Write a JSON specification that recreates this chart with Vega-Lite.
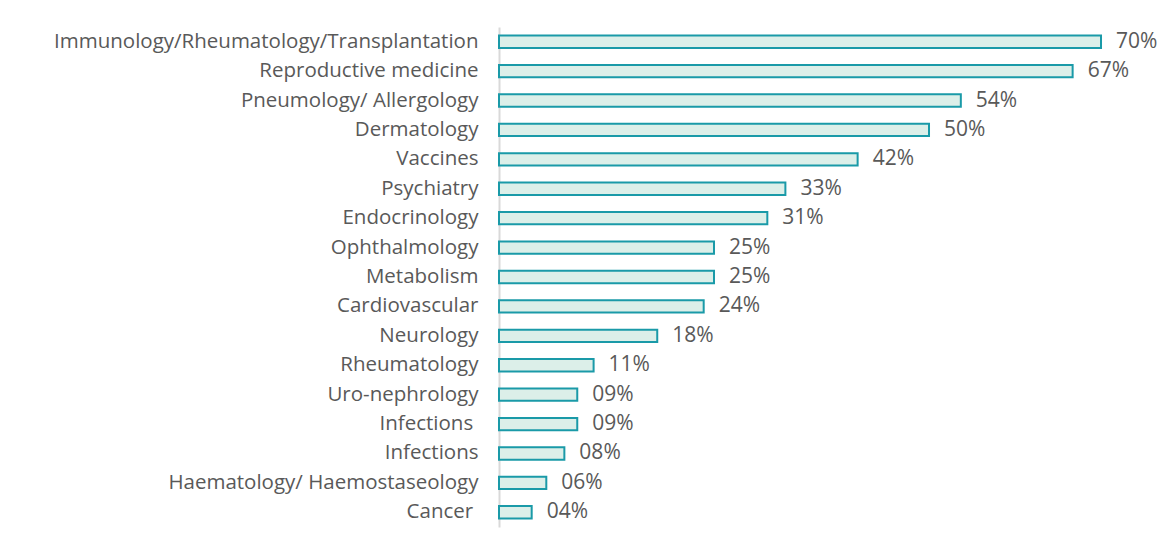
{
  "$schema": "https://vega.github.io/schema/vega-lite/v6.json",
  "autosize": {"type": "none"},
  "width": 650,
  "height": 500,
  "padding": {"left": 499, "top": 27, "right": 23, "bottom": 33},
  "background": "white",
  "config": {"view": {"stroke": null}, "font": "Open Sans"},
  "data": {
    "values": [
      {"area": "Immunology/Rheumatology/Transplantation", "pct": 70, "label": "70%"},
      {"area": "Reproductive medicine", "pct": 66.7, "label": "67%"},
      {"area": "Pneumology/ Allergology", "pct": 53.7, "label": "54%"},
      {"area": "Dermatology", "pct": 50, "label": "50%"},
      {"area": "Vaccines", "pct": 41.7, "label": "42%"},
      {"area": "Psychiatry", "pct": 33.3, "label": "33%"},
      {"area": "Endocrinology", "pct": 31.2, "label": "31%"},
      {"area": "Ophthalmology", "pct": 25, "label": "25%"},
      {"area": "Metabolism", "pct": 25, "label": "25%"},
      {"area": "Cardiovascular", "pct": 23.8, "label": "24%"},
      {"area": "Neurology", "pct": 18.4, "label": "18%"},
      {"area": "Rheumatology", "pct": 11, "label": "11%"},
      {"area": "Uro-nephrology", "pct": 9.1, "label": "09%"},
      {"area": "Infections ", "pct": 9.1, "label": "09%"},
      {"area": "Infections", "pct": 7.6, "label": "08%"},
      {"area": "Haematology/ Haemostaseology", "pct": 5.5, "label": "06%"},
      {"area": "Cancer ", "pct": 3.8, "label": "04%"}
    ]
  },
  "encoding": {
    "y": {
      "field": "area", "type": "nominal", "sort": null, "title": null,
      "scale": {"paddingInner": 0.58, "paddingOuter": 0.29},
      "axis": {
        "ticks": false, "domain": true, "domainColor": "#d9d9d9", "domainWidth": 2,
        "labelFontSize": 20.5, "labelColor": "#595959", "labelPadding": 21,
        "labelLimit": 600, "grid": false,
        "labelExpr": "replace(datum.label, / $/, '\u00a0\u200b')"
      }
    },
    "x": {
      "field": "pct", "type": "quantitative", "title": null,
      "scale": {"domain": [0, 75.58]}, "axis": null
    }
  },
  "layer": [
    {
      "mark": {"type": "bar", "fill": "#dcefe9", "stroke": "#1a9aa8", "strokeWidth": 2, "cornerRadius": 0}
    },
    {
      "mark": {"type": "text", "align": "left", "baseline": "middle", "dx": 15, "fontSize": 21, "color": "#595959"},
      "encoding": {"text": {"field": "label"}}
    }
  ]
}
